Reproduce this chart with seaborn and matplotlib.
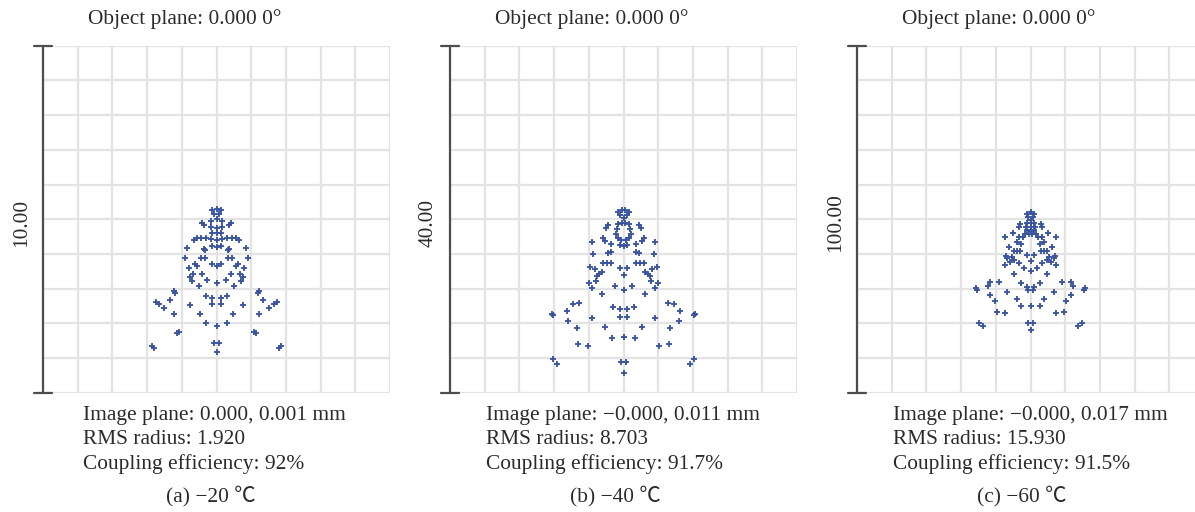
import matplotlib
matplotlib.use("Agg")
import matplotlib.pyplot as plt
import seaborn as sns
import pandas as pd
import numpy as np

# Spot diagram ray intercepts (µm) at three temperatures
spots_m20 = [
    (-0.12, 0.26), (0, 0.28), (0.12, 0.26), (-0.08, 0.14), (0.08, 0.14),
    (-0.41, -0.12), (0.41, -0.12), (-0.37, -0.18), (0.37, -0.18),
    (-0.15, -0.05), (0, 0.0), (0.15, -0.05), (-0.16, -0.23), (0, -0.25), (0.16, -0.23),
    (-0.12, -0.385), (0, -0.385), (0.12, -0.385),
    (-0.56, -0.53), (-0.44, -0.53), (-0.29, -0.55), (0.29, -0.55), (0.44, -0.53), (0.56, -0.53),
    (-0.16, -0.58), (0, -0.6), (0.16, -0.58), (-0.64, -0.6), (0.64, -0.6),
    (-0.85, -0.84), (0.85, -0.84), (-0.37, -0.85), (-0.33, -0.89), (0.33, -0.89), (0.37, -0.85),
    (-0.12, -0.78), (0, -0.8), (0.12, -0.78), (-0.92, -1.13), (0.92, -1.13),
    (-0.46, -1.12), (-0.33, -1.12), (0.33, -1.12), (0.46, -1.12),
    (-0.12, -1.3), (0, -1.35), (0.12, -1.3), (-0.62, -1.3), (-0.57, -1.36), (0.57, -1.36), (0.62, -1.3),
    (-0.8, -1.42), (0.8, -1.42), (-0.67, -1.57), (-0.41, -1.57), (0.41, -1.57), (0.67, -1.57),
    (-0.77, -1.68), (0.77, -1.68), (-0.71, -1.77), (0.71, -1.77), (-0.51, -1.92), (0.51, -1.92),
    (-0.26, -1.74), (0, -1.83), (0.26, -1.74),
    (-1.23, -2.08), (-1.2, -2.13), (1.2, -2.13), (1.23, -2.08),
    (-0.29, -2.21), (-0.12, -2.26), (0.12, -2.26), (0.29, -2.21),
    (-1.73, -2.4), (-1.67, -2.43), (1.67, -2.43), (1.73, -2.4), (-1.33, -2.34), (1.33, -2.34),
    (-0.75, -2.48), (0.75, -2.48), (-0.12, -2.45), (0.12, -2.45), (-1.5, -2.57), (1.5, -2.57),
    (-1.23, -2.74), (1.23, -2.74), (-0.47, -2.74), (0.47, -2.74),
    (-0.3, -2.98), (0, -3.08), (0.3, -2.98),
    (-1.14, -3.27), (-1.09, -3.24), (1.09, -3.24), (1.14, -3.27),
    (-0.07, -3.56), (0.07, -3.56), (0, -3.83),
    (-1.86, -3.65), (-1.81, -3.72), (1.81, -3.72), (1.86, -3.65),
]

spots_m40 = [
    (-0.58, 0.88), (-0.19, 1.08), (0.19, 1.08), (0.58, 0.88), (-0.38, 0.46), (0.38, 0.46), (0, 0.12),
    (-1.73, -0.65), (1.73, -0.65), (-2.0, -1.04), (2.0, -1.04),
    (-0.69, -0.5), (-0.23, -0.42), (0.23, -0.42), (0.69, -0.5),
    (-0.77, -1.15), (-0.81, -1.65), (-0.62, -2.12), (-0.31, -2.42),
    (0.31, -2.42), (0.62, -2.12), (0.81, -1.65), (0.77, -1.15),
    (-0.38, -2.96), (0, -3.12), (0.38, -2.96),
    (-2.42, -2.12), (2.42, -2.12), (-2.12, -2.5), (2.12, -2.5),
    (-3.58, -2.62), (3.58, -2.62), (-1.46, -2.81), (1.46, -2.81),
    (-3.46, -4.04), (3.46, -4.04),
    (-1.77, -3.92), (-1.42, -3.73), (1.42, -3.73), (1.77, -3.92),
    (-2.31, -5.0), (-1.88, -5.0), (-1.46, -5.0), (1.46, -5.0), (1.88, -5.0), (2.31, -5.0),
    (-3.85, -5.5), (3.85, -5.5), (-3.27, -5.77), (3.27, -5.77),
    (-0.38, -5.58), (0.38, -5.58), (0, -6.42),
    (-2.5, -6.04), (-2.77, -6.27), (-3.0, -6.54), (2.5, -6.04), (2.77, -6.27), (3.0, -6.54),
    (-3.15, -7.12), (3.15, -7.12), (-3.92, -7.31), (3.92, -7.31), (-3.65, -7.88), (3.65, -7.88),
    (-0.96, -7.69), (0, -8.15), (0.96, -7.69), (-2.5, -8.65), (2.5, -8.65),
    (-5.08, -9.62), (5.08, -9.62), (-5.85, -9.81), (5.85, -9.81), (-6.46, -10.58), (6.46, -10.58),
    (-8.27, -10.88), (-8.08, -11.04), (8.08, -11.04), (8.27, -10.88),
    (-1.23, -10.12), (1.23, -10.12), (-0.38, -10.38), (0.38, -10.38),
    (-0.38, -11.27), (0.38, -11.27), (-3.65, -11.42), (3.65, -11.42),
    (-6.35, -11.73), (6.35, -11.73), (-5.38, -12.5), (5.38, -12.5), (-2.12, -12.42), (2.12, -12.42),
    (-1.35, -13.73), (0, -13.58), (1.35, -13.73),
    (-5.19, -14.42), (-4.04, -14.62), (4.04, -14.62), (5.19, -14.42),
    (-8.15, -16.15), (-7.62, -16.73), (7.62, -16.73), (8.15, -16.15),
    (-0.27, -16.42), (0.27, -16.42), (0, -17.69),
]

spots_m60 = [
    (-1.15, 1.63), (0, 2.21), (1.15, 1.63), (-0.58, 0.77), (0.58, 0.77), (0, -0.19),
    (-0.96, -1.15), (0, -0.96), (0.96, -1.15), (-1.35, -2.12), (0, -2.12), (1.35, -2.12),
    (-0.96, -3.08), (0, -3.37), (0.96, -3.08),
    (-1.54, -4.33), (-0.38, -4.33), (0.38, -4.33), (1.54, -4.33),
    (-3.08, -1.44), (3.08, -1.44), (-3.37, -2.12), (3.37, -2.12),
    (-5.1, -3.85), (5.1, -3.85), (-7.21, -5.0), (7.21, -5.0),
    (-3.37, -5.0), (-2.12, -5.0), (2.12, -5.0), (3.37, -5.0),
    (-3.85, -6.44), (-2.88, -7.21), (2.88, -7.21), (3.85, -6.44),
    (-6.06, -7.88), (6.06, -7.88),
    (-4.62, -9.04), (-3.85, -9.04), (-3.08, -9.04), (3.08, -9.04), (3.85, -9.04), (4.62, -9.04),
    (-0.96, -10.29), (0.96, -10.29),
    (-7.12, -10.48), (-6.63, -11.25), (6.63, -11.25), (7.12, -10.48),
    (-5.29, -10.96), (-4.81, -11.73), (-5.77, -12.21), (5.29, -10.96), (4.81, -11.73), (5.77, -12.21),
    (0, -12.02), (-7.4, -13.17), (7.4, -13.17), (-3.37, -12.69), (3.37, -12.69),
    (-1.92, -13.94), (1.92, -13.94), (0, -14.9), (-4.81, -15.87), (4.81, -15.87),
    (-9.13, -17.98), (9.13, -17.98), (-11.73, -18.17), (11.73, -18.17),
    (-12.31, -19.13), (12.31, -19.13),
    (-15.58, -19.9), (-15.38, -20.38), (15.38, -20.38), (15.58, -19.9),
    (-2.6, -18.46), (-1.15, -19.42), (1.15, -19.42), (2.6, -18.46),
    (-0.67, -20.38), (0.67, -20.38), (-6.73, -20.87), (6.73, -20.87),
    (-11.73, -21.83), (11.73, -21.83), (-10.1, -23.46), (10.1, -23.46),
    (-3.85, -22.98), (3.85, -22.98), (-2.6, -25.0), (0, -25.0), (2.6, -25.0),
    (-9.62, -26.83), (-7.21, -27.12), (7.21, -27.12), (9.62, -26.83),
    (-14.9, -29.81), (-13.75, -30.77), (13.75, -30.77), (14.9, -29.81),
    (-0.67, -29.81), (0.67, -29.81), (0, -31.92),
]

scale_bars = [10.0, 40.0, 100.0]          # full box width/height, µm
image_planes = ["0.000, 0.001", "\u22120.000, 0.011", "\u22120.000, 0.017"]
rms_radii = ["1.920", "8.703", "15.930"]
coupling = ["92%", "91.7%", "91.5%"]
captions = ["(a) \u221220 \u2103", "(b) \u221240 \u2103", "(c) \u221260 \u2103"]
spot_sets = [spots_m20, spots_m40, spots_m60]

sns.set_theme(style="whitegrid")
plt.rcParams["font.family"] = ["Liberation Serif", "Noto Sans CJK SC", "DejaVu Sans"]

W, H = 1195, 512
fig = plt.figure(figsize=(W / 100, H / 100), dpi=100)

TXT = "#2b2b2b"
DOT = "#3a55a0"
FS = 15.4
BOX = 347
box_left = [43, 450, 857]
box_top = 45.7
text_left = [83, 486, 893]
caption_x = [211, 615, 1022]


def fx(px):
    return px / W


def fy(py):
    return 1 - py / H


for i in range(3):
    ax = fig.add_axes([fx(box_left[i]), fy(box_top + BOX), BOX / W, BOX / H])
    half = scale_bars[i] / 2
    df = pd.DataFrame(spot_sets[i], columns=["x", "y"])
    sns.scatterplot(data=df, x="x", y="y", ax=ax, marker="+", s=15,
                    linewidth=1.35, color=DOT, zorder=3)
    ax.set_xlim(-half, half)
    ax.set_ylim(-half, half)
    ticks = np.linspace(-half, half, 11)
    ax.set_xticks(ticks)
    ax.set_yticks(ticks)
    ax.tick_params(length=0, labelbottom=False, labelleft=False)
    ax.set_xlabel("")
    ax.set_ylabel("")
    ax.grid(True, color="#e3e3e3", linewidth=1.6)
    for s in ax.spines.values():
        s.set_visible(False)

    # vertical scale bar with end caps
    bar = dict(transform=ax.transAxes, clip_on=False, color="#4d4d4d", lw=1.6, zorder=4)
    ax.plot([0, 0], [0, 1], **bar)
    ax.plot([-0.025, 0.025], [1, 1], **bar)
    ax.plot([-0.025, 0.025], [0, 0], **bar)
    ax.text(-0.062, 0.49, f"{scale_bars[i]:.2f}", rotation=90, transform=ax.transAxes,
            ha="center", va="center", fontsize=FS, color=TXT)

    fig.text(fx(box_left[i] + 45), fy(19), "Object plane: 0.000 0\u00b0",
             ha="left", va="center", fontsize=FS, color=TXT)
    lines = [f"Image plane: {image_planes[i]} mm",
             f"RMS radius: {rms_radii[i]}",
             f"Coupling efficiency: {coupling[i]}"]
    for k, s in enumerate(lines):
        fig.text(fx(text_left[i]), fy(415.5 + 24.5 * k), s,
                 ha="left", va="center", fontsize=FS, color=TXT)
    fig.text(fx(caption_x[i]), fy(496), captions[i], ha="center", va="center",
             fontsize=FS, color=TXT)

fig.savefig("out.png", dpi=100, facecolor="white")
